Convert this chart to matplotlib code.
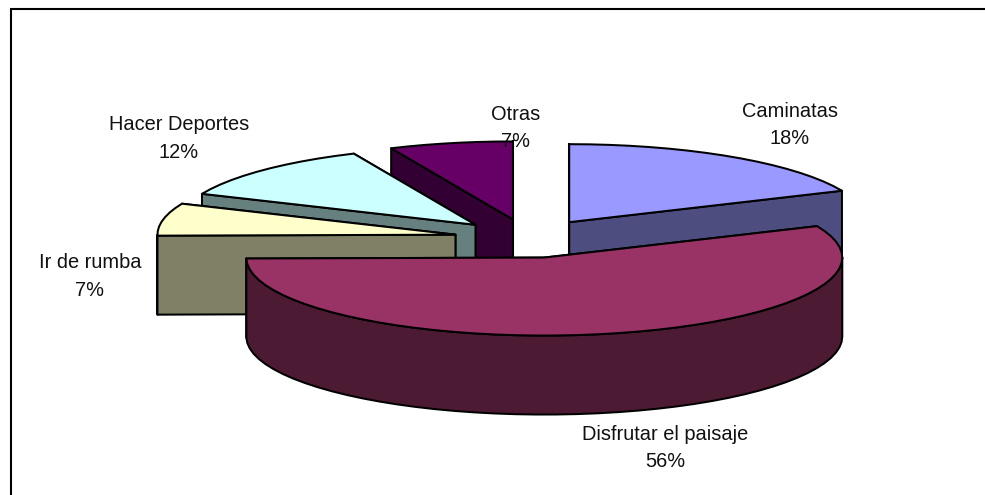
import numpy as np
import matplotlib
matplotlib.use("Agg")
import matplotlib.pyplot as plt
from matplotlib.patches import Polygon, Rectangle

categories = ["Caminatas", "Disfrutar el paisaje", "Ir de rumba", "Hacer Deportes", "Otras"]
values = [18.4, 56.4, 6.7, 11.8, 6.7]
top_colors = ["#9999FF", "#993366", "#FFFFCC", "#CCFFFF", "#660066"]
side_colors = ["#4D4D80", "#4D1A33", "#808066", "#668080", "#330033"]
label_xy = [(790, 125), (665, 448), (90, 276.5), (179, 138.5), (516, 128)]
draw_order = [4, 3, 2, 0, 1]

plt.rcParams["font.family"] = ["Liberation Sans", "DejaVu Sans"]
W, H = 985, 495
CX, CY, RX, RY, DEPTH, EXPLODE = 528.5, 238.5, 298, 78, 79, 0.25
LW = 1.45

fig = plt.figure(figsize=(W / 100, H / 100), dpi=100)
ax = fig.add_axes([0, 0, 1, 1])
ax.set_xlim(0, W)
ax.set_ylim(H, 0)
ax.axis("off")
# The frame runs off the right and bottom edges of the picture.
ax.add_patch(Rectangle((11, 9), W + 40, H + 40, fc="white", ec="black", lw=1.5, zorder=0))

bounds = np.cumsum([0] + values) / sum(values) * 360.0


def arc(cx, cy, a0, a1):
    n = max(2, int(abs(a1 - a0) / 4) + 2)
    t = np.radians(np.linspace(a0, a1, n))
    return np.column_stack([cx + RX * np.sin(t), cy - RY * np.cos(t)])


z = 1
for i in draw_order:
    a0, a1 = bounds[i], bounds[i + 1]
    mid = np.radians((a0 + a1) / 2)
    cx = CX + EXPLODE * RX * np.sin(mid)
    cy = CY - EXPLODE * RY * np.cos(mid)
    apex = np.array([cx, cy])
    down = np.array([0, DEPTH])
    m = np.array([np.sin(mid), -RY / RX * np.cos(mid)])

    faces_back, faces_front = [], []
    for ang in (a0, a1):
        p = arc(cx, cy, ang, ang)[0]
        d = p - apex
        poly = [apex, p, p + down, apex + down]
        if abs(d[0]) < 1e-6:
            faces_front.append(poly)
        elif m[1] < d[1] / d[0] * m[0]:
            faces_front.append(poly)
        else:
            faces_back.append(poly)

    for poly in faces_back:
        ax.add_patch(Polygon(poly, fc=side_colors[i], ec="black", lw=LW, joinstyle="round", zorder=z))
        z += 1
    r0, r1 = max(a0, 90), min(a1, 270)
    if r1 > r0:
        rim = arc(cx, cy, r0, r1)
        ax.add_patch(Polygon(np.vstack([rim, rim[::-1] + down]), fc=side_colors[i], ec="black",
                             lw=LW, joinstyle="round", zorder=z))
        z += 1
    for poly in faces_front:
        ax.add_patch(Polygon(poly, fc=side_colors[i], ec="black", lw=LW, joinstyle="round", zorder=z))
        z += 1
    ax.add_patch(Polygon(np.vstack([apex, arc(cx, cy, a0, a1)]), fc=top_colors[i], ec="black",
                         lw=LW, joinstyle="round", zorder=z))
    z += 1

for name, v, (x, y) in zip(categories, values, label_xy):
    ax.text(x, y, f"{name}\n{v:.0f}%", ha="center", va="center", fontsize=14.4,
            linespacing=1.58, color="#111111", zorder=z)

fig.savefig("out.png", dpi=100, facecolor="white")
